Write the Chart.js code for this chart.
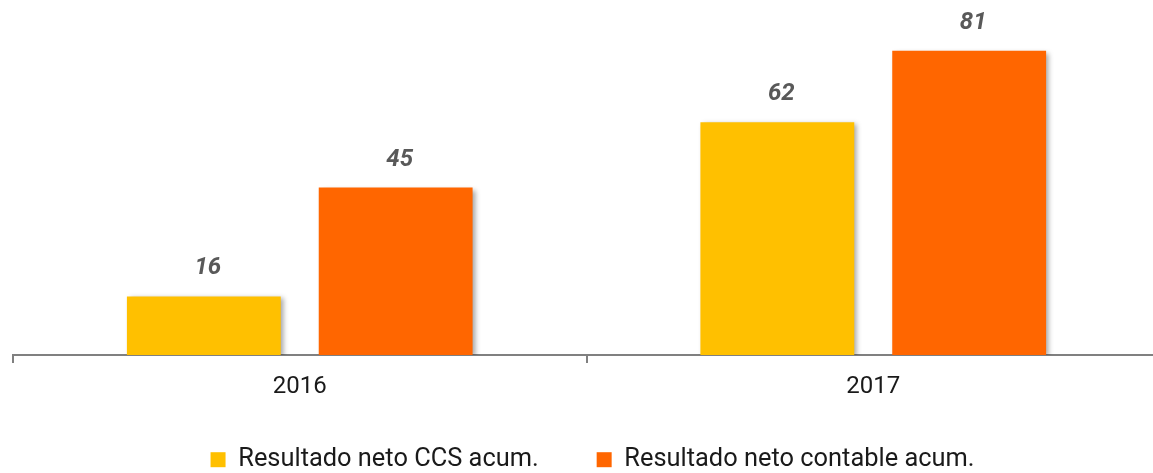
<!DOCTYPE html>
<html><head><meta charset="utf-8">
<script src="https://cdn.jsdelivr.net/npm/chart.js@4/dist/chart.umd.min.js"></script>
<style>
html,body{margin:0;padding:0;background:#fff;overflow:hidden;}
#wrap{width:1165px;height:473px;position:relative;}
</style></head>
<body><div id="wrap"><canvas id="c"></canvas></div>
<script>
const categories = ["2016", "2017"];
const seriesNames = ["Resultado neto CCS acum.", "Resultado neto contable acum."];
const ccsValues = [15.6, 62.0];
const contableValues = [44.6, 81.0];

const shadowPlugin = {
  id: 'barShadow',
  beforeDatasetsDraw(chart) {
    const ctx = chart.ctx;
    ctx.save();
    ctx.shadowColor = 'rgba(0,0,0,0.35)';
    ctx.shadowBlur = 5;
    ctx.shadowOffsetX = 3;
    ctx.shadowOffsetY = 2;
  },
  afterDatasetsDraw(chart) {
    chart.ctx.restore();
  }
};

const labelPlugin = {
  id: 'valueLabels',
  afterDatasetsDraw(chart) {
    const ctx = chart.ctx;
    ctx.save();
    ctx.font = 'italic bold 24px Roboto';
    ctx.fillStyle = '#595959';
    ctx.textAlign = 'center';
    ctx.textBaseline = 'alphabetic';
    chart.data.datasets.forEach((ds, i) => {
      chart.getDatasetMeta(i).data.forEach((bar, j) => {
        ctx.fillText(String(Math.round(ds.data[j])), bar.x + 4, bar.y - 22);
      });
    });
    ctx.restore();
  }
};

// keep the legend compact in the layout, then place it near the bottom edge
const legendPlace = {
  id: 'legendPlace',
  beforeLayout(chart) {
    const lg = chart.legend;
    if (lg && !lg._wrappedFit) {
      const orig = lg.fit.bind(lg);
      lg.fit = function () { orig(); this.height = 60; };
      lg._wrappedFit = true;
    }
  },
  afterLayout(chart) {
    const lg = chart.legend;
    if (!lg) return;
    lg.top = 389;
    lg.bottom = 473;
    lg.height = lg.bottom - lg.top;
    lg.left += 6;
    lg.right += 6;
  }
};

new Chart(document.getElementById('c'), {
  type: 'bar',
  data: {
    labels: categories,
    datasets: [
      { label: seriesNames[0], data: ccsValues, backgroundColor: '#FFC000' },
      { label: seriesNames[1], data: contableValues, backgroundColor: '#FF6600' }
    ]
  },
  options: {
    responsive: true,
    maintainAspectRatio: false,
    animation: false,
    categoryPercentage: 0.669,
    barPercentage: 0.802,
    layout: { padding: { left: 13, right: 5, top: 17, bottom: 0 } },
    plugins: {
      legend: {
        position: 'bottom',
        labels: {
          boxWidth: 15, boxHeight: 15, padding: 58,
          color: '#1a1a1a',
          font: { family: 'Roboto', size: 25.4 }
        }
      },
      tooltip: { enabled: false }
    },
    scales: {
      x: {
        afterFit: (s) => { s.height = 58; },
        grid: { display: true, drawOnChartArea: false, drawTicks: true, tickLength: 8, color: '#808080', lineWidth: 2 },
        border: { display: true, color: '#808080', width: 2 },
        ticks: { color: '#1a1a1a', font: { family: 'Roboto', size: 24 }, padding: 10 }
      },
      y: { display: false, min: 0, max: 90 }
    }
  },
  plugins: [shadowPlugin, labelPlugin, legendPlace]
});
</script></body></html>
